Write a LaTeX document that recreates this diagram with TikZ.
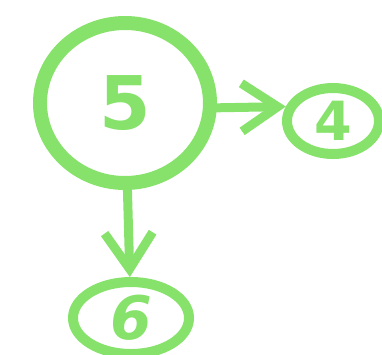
\documentclass[tikz,border=0pt]{standalone}
\usepackage{fontspec}
\setsansfont{DejaVu Sans}
\usetikzlibrary{shapes.geometric, arrows.meta, positioning}
\definecolor{marker}{HTML}{86E26A}
\tikzset{
  blob/.style ={ellipse, draw=marker, text=marker, inner sep=0pt,
                font=\sffamily\bfseries, line width=10pt},
  flow/.style ={-{Straight Barb[length=36pt,width=48pt]}, draw=marker,
                line width=9pt, line cap=round, line join=round}
}
\begin{document}
\begin{tikzpicture}[x=1pt, y=-1pt]
  \useasboundingbox (0,0) rectangle (382,354);
  \node[blob, line width=14pt, minimum width=170pt, minimum height=160pt,
        font=\sffamily\bfseries\fontsize{74}{74}\selectfont] (five) at (125,103) {5};
  \node[blob, minimum width=92pt, minimum height=66pt,
        font=\sffamily\bfseries\fontsize{54}{54}\selectfont] (four) at (333,121) {4};
  \node[blob, minimum width=116pt, minimum height=72pt,
        font=\sffamily\bfseries\itshape\fontsize{60}{60}\selectfont] (six) at (131,318) {6};

  \draw[flow] (five.-3) -- (four.163);
  \draw[flow] (five) -- (six);
\end{tikzpicture}
\end{document}
